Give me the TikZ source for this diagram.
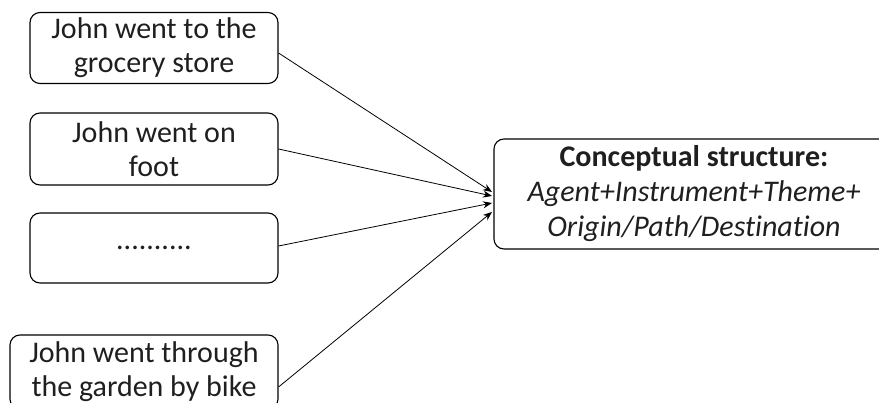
\documentclass[tikz,border=0pt]{standalone}
\usepackage{fontspec}
\setmainfont{Carlito}[Ligatures={NoCommon}]
\usetikzlibrary{arrows.meta}
\begin{document}
\begin{tikzpicture}[x=1pt,y=-1pt,
  sbox/.style={draw, line width=1.1pt, rounded corners=10pt, align=center,
    inner sep=0pt, font=\fontsize{30}{34}\selectfont, text=black!88},
  conn/.style={line width=0.8pt, -{Stealth[length=9pt,width=7pt]}}]
\useasboundingbox (0,0) rectangle (879,403);
\node[sbox, minimum width=248pt, minimum height=71pt] (b1) at (154,48) {John went to the\\grocery store};
\node[sbox, minimum width=248pt, minimum height=72pt] (b2) at (154,149) {John went on\\foot};
\node[sbox, minimum width=248pt, minimum height=70pt] (b3) at (154,248) {..........};
\node[sbox, minimum width=268pt, minimum height=74pt] (b4) at (144,372) {John went through\\the garden by bike};
\node[sbox, minimum width=400pt, minimum height=110pt, font=\fontsize{30}{35}\selectfont] (c) at (694,194)
  {\textbf{Conceptual structure:}\\\textit{Agent+Instrument+Theme+}\\\textit{Origin/Path/Destination}};
\coordinate (t1) at (492,192);
\coordinate (t2) at (492,196);
\coordinate (t3) at (492,203);
\coordinate (t4) at (492,212);
\draw[conn] ([yshift=-5pt]b1.east) -- (t1);
\draw[conn] (b2.east) -- (t2);
\draw[conn] ([yshift=2pt]b3.east) -- (t3);
\draw[conn] ([yshift=-15pt]b4.east) -- (t4);
\end{tikzpicture}
\end{document}
